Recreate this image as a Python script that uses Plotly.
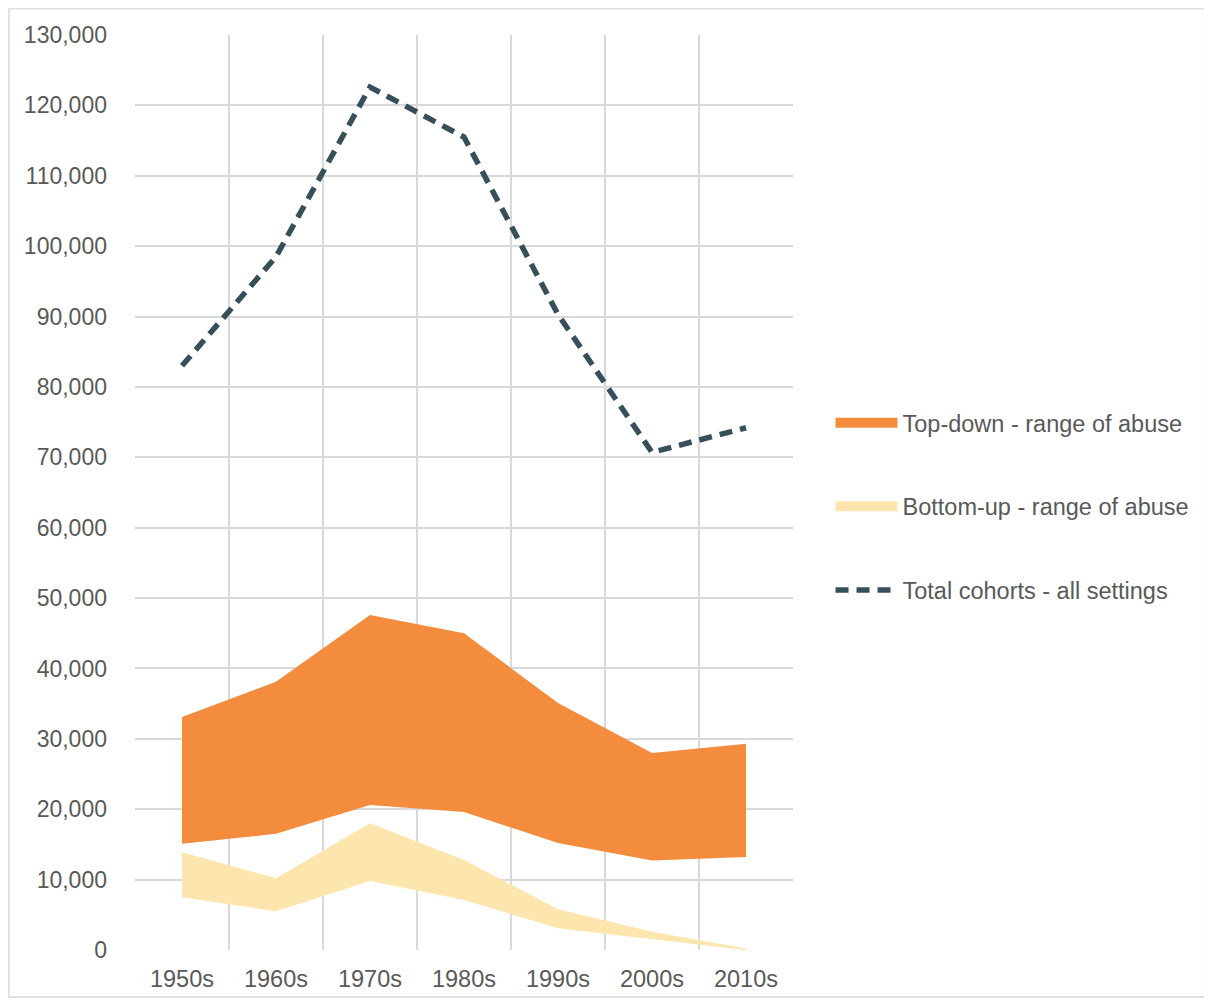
import plotly.graph_objects as go

categories = ["1950s", "1960s", "1970s", "1980s", "1990s", "2000s", "2010s"]
total_cohorts = [83000, 98500, 122600, 115500, 90300, 70700, 74200]
topdown_low = [15100, 16500, 20600, 19600, 15200, 12700, 13200]
topdown_high = [33100, 38100, 47600, 45000, 35100, 28000, 29300]
bottomup_low = [7500, 5500, 9800, 7100, 3100, 1600, 0]
bottomup_high = [13900, 10200, 18000, 12800, 5800, 2600, 200]
y_ticks = list(range(0, 130001, 10000))

ORANGE = "#F38D3D"
YELLOW = "#FDE5AE"
SLATE = "#374F5B"
GRID = "#D9D9D9"
TXT = "#595959"
FONT = "Liberation Sans, Arial, sans-serif"

x = list(range(len(categories)))

fig = go.Figure()
# Bottom-up band
fig.add_trace(go.Scatter(x=x, y=bottomup_low, mode="lines", line=dict(width=0, color=YELLOW),
                         showlegend=False, hoverinfo="skip"))
fig.add_trace(go.Scatter(x=x, y=bottomup_high, mode="lines", line=dict(width=0, color=YELLOW),
                         fill="tonexty", fillcolor=YELLOW, showlegend=False, hoverinfo="skip"))
# Top-down band
fig.add_trace(go.Scatter(x=x, y=topdown_low, mode="lines", line=dict(width=0, color=ORANGE),
                         showlegend=False, hoverinfo="skip"))
fig.add_trace(go.Scatter(x=x, y=topdown_high, mode="lines", line=dict(width=0, color=ORANGE),
                         fill="tonexty", fillcolor=ORANGE, showlegend=False, hoverinfo="skip"))
# Total line
fig.add_trace(go.Scatter(x=x, y=total_cohorts, mode="lines",
                         line=dict(color=SLATE, width=5.5, dash="13px,8px"),
                         showlegend=False))

# Legend entries
fig.add_trace(go.Scatter(x=[None], y=[None], mode="lines", name="Top-down - range of abuse",
                         line=dict(color=ORANGE, width=10), legendgroup="a"))
fig.add_trace(go.Scatter(x=[None], y=[None], mode="lines", name="Bottom-up - range of abuse",
                         line=dict(color=YELLOW, width=10), legendgroup="b"))
fig.add_trace(go.Scatter(x=[None], y=[None], mode="lines", name="Total cohorts - all settings",
                         line=dict(color=SLATE, width=5.5, dash="13px,8px"), legendgroup="c"))

fig.update_layout(
    width=1212, height=1001,
    margin=dict(l=127, r=427, t=27, b=59),
    paper_bgcolor="white", plot_bgcolor="white",
    font=dict(family=FONT, size=23, color=TXT),
    legend=dict(x=1.057, xanchor="left", y=0.6, yanchor="top",
                itemwidth=62, traceorder="grouped", tracegroupgap=50,
                font=dict(size=23.5, color=TXT), bgcolor="rgba(0,0,0,0)"),
    xaxis=dict(range=[-0.5, 6.5], tickvals=x, ticktext=categories,
               tickfont=dict(size=23.5),
               showgrid=False, zeroline=False, showline=False, ticks="",
               ticklabelstandoff=12,
               minor=dict(tickvals=[i - 0.5 for i in range(len(categories) + 1)],
                          showgrid=True, gridcolor=GRID, gridwidth=1.5, ticks="")),
    yaxis=dict(range=[0, 130000], tickvals=y_ticks, tickformat=",",
               tickfont=dict(size=23),
               showgrid=True, gridcolor=GRID, gridwidth=1.5,
               zeroline=False, showline=False, ticks="", ticklabelstandoff=27),
    shapes=[dict(type="rect", xref="paper", yref="paper",
                 x0=-0.192, x1=1.626, y0=-0.0514, y1=1.029,
                 line=dict(color="#E0E0E0", width=2), fillcolor="rgba(0,0,0,0)", layer="below")],
    showlegend=True,
)

fig.write_html("out.html")
